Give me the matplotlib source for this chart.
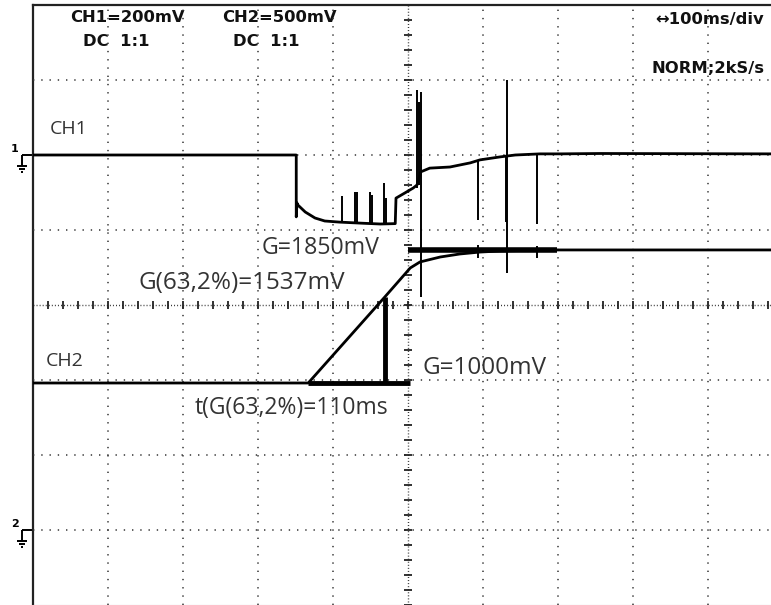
import numpy as np
import matplotlib
matplotlib.use('Agg')
import matplotlib.pyplot as plt

# screen: 100 ms/div, CH1 200 mV/div (ground at div 6), CH2 500 mV/div (ground at div 1)
ms_per_div = 100
ch1_mv_per_div, ch1_ground = 200, 6.0
ch2_mv_per_div, ch2_ground = 500, 1.0

# CH1 trace (time ms from left edge, mV)
ch1_t = [0, 351, 351, 352, 353, 363, 376, 389, 409, 440, 463, 483, 484, 496, 507,
         512, 517, 529, 556, 583, 596, 623, 643, 676, 703, 756, 984]
ch1_mv = [0, 0, -165, -128, -133, -152, -168, -176, -179, -182, -184, -183, -115,
          -101, -88, -80, -45, -35, -32, -21, -13, -5, 0, 3, 3, 4, 3]

# CH1 glitches (time, low mV, high mV)
ch1_spk_t = [412, 429, 432, 449, 452, 468, 471, 512, 515, 517, 593, 631, 632, 672]
ch1_spk_lo = [-179, -180, -180, -182, -182, -183, -183, -88, -80, -379, -173, -179, -315, -184]
ch1_spk_hi = [-109, -99, -99, -99, -107, -75, -115, 173, 141, 168, -13, 0, 200, 3]

# CH2 trace
ch2_t = [0, 367, 469, 489, 503, 516, 543, 569, 596, 623, 689, 984]
ch2_mv = [980, 980, 1553, 1667, 1747, 1787, 1820, 1840, 1853, 1860, 1867, 1867]

ch2_spk_t = [593, 672]
ch2_spk_lo = [1813, 1813]
ch2_spk_hi = [1900, 1893]

# cursors
g_final_mv, g_final_t = 1870, [500, 699]
g_base_mv, g_base_t = 980, [367, 503]
t63_ms, t63_mv = 469, [980, 1553]


def tx(t):
    return np.asarray(t, dtype=float) / ms_per_div


def y1(mv):
    return ch1_ground + np.asarray(mv, dtype=float) / ch1_mv_per_div


def y2(mv):
    return ch2_ground + np.asarray(mv, dtype=float) / ch2_mv_per_div


fig = plt.figure(figsize=(7.71, 6.05), dpi=100)
ax = fig.add_axes([33 / 771, 0, 738 / 771, 600 / 605])
ax.set_xlim(0, 738 / 75)
ax.set_ylim(0, 8)
ax.set_xticks([])
ax.set_yticks([])
for s in ['left', 'top']:
    ax.spines[s].set_linewidth(1.6)
    ax.spines[s].set_color('#222222')
ax.spines['right'].set_visible(False)
ax.spines['bottom'].set_color('#bbbbbb')

# dotted graticule
dots = (0, (0.9, 4.5))
for k in range(1, 10):
    if k != 5:
        ax.axvline(k, color='#333333', lw=1.1, ls=dots, zorder=5)
for k in range(1, 8):
    if k != 4:
        ax.axhline(k, color='#333333', lw=1.1, ls=dots, zorder=5)
# centre cross with minor ticks
ax.axvline(5, color='#333333', lw=1.0, ls=(0, (0.7, 1.5)), zorder=5)
ax.axhline(4, color='#333333', lw=1.0, ls=(0, (0.7, 1.5)), zorder=5)
minor = np.arange(0, 8.01, 0.2)
ax.plot(np.full(len(minor), 5.0), minor, ls='none', marker='_', ms=6, mew=1.3,
        color='#222222', zorder=5)
minor_x = np.arange(0, 9.9, 0.2)
ax.plot(minor_x, np.full(len(minor_x), 4.0), ls='none', marker='|', ms=6, mew=1.3,
        color='#222222', zorder=5)

# traces
ax.plot(tx(ch1_t), y1(ch1_mv), color='black', lw=2.0, zorder=6)
ax.vlines(tx(ch1_spk_t), y1(ch1_spk_lo), y1(ch1_spk_hi), color='black', lw=1.4, zorder=6)
ax.plot(tx(ch2_t), y2(ch2_mv), color='black', lw=2.0, zorder=6)
ax.vlines(tx(ch2_spk_t), y2(ch2_spk_lo), y2(ch2_spk_hi), color='black', lw=1.4, zorder=6)

# measurement cursors
ax.plot(tx(g_final_t), y2([g_final_mv] * 2), color='black', lw=4, zorder=7,
        solid_capstyle='butt')
ax.plot(tx(g_base_t), y2([g_base_mv] * 2), color='black', lw=3.5, zorder=7,
        solid_capstyle='butt')
ax.plot(tx([t63_ms] * 2), y2(t63_mv), color='black', lw=3.5, zorder=7,
        solid_capstyle='butt')

# ground markers
for lvl, num in [(ch1_ground, '1'), (ch2_ground, '2')]:
    kw = dict(color='black', lw=1.4, clip_on=False, solid_capstyle='butt')
    ax.plot([-0.15, -0.02], [lvl, lvl], **kw)
    ax.plot([-0.15, -0.15], [lvl, lvl - 0.14], **kw)
    ax.plot([-0.22, -0.08], [lvl - 0.14] * 2, **kw)
    ax.plot([-0.19, -0.11], [lvl - 0.18] * 2, **kw)
    ax.plot([-0.165, -0.135], [lvl - 0.22] * 2, **kw)
    ax.text(-0.19, lvl + 0.01, num, ha='right', va='bottom', fontsize=8,
            fontweight='bold', family='DejaVu Sans', clip_on=False)

# scope header
hdr = dict(fontsize=11.8, fontweight='bold', family='DejaVu Sans', color='#111111',
           va='center', zorder=4)
ax.text(0.49, 7.84, 'CH1=200mV', ha='left', **hdr)
ax.text(0.67, 7.52, 'DC  1:1', ha='left', **hdr)
ax.text(2.52, 7.84, 'CH2=500mV', ha='left', **hdr)
ax.text(2.67, 7.52, 'DC  1:1', ha='left', **hdr)
ax.text(9.75, 7.81, '\u2194100ms/div', ha='right', **hdr)
ax.text(9.75, 7.15, 'NORM;2kS/s', ha='right', **hdr)

# labels
lab = dict(family='Open Sans', color='#333333', va='center', ha='left', zorder=4)
ax.text(0.227, 6.35, 'CH1', fontsize=14, **lab)
ax.text(0.173, 3.25, 'CH2', fontsize=14, **lab)
ax.text(3.05, 4.76, 'G=1850mV', fontsize=16.7, **lab)
ax.text(1.40, 4.29, 'G(63,2%)=1537mV', fontsize=17.5, **lab)
ax.text(5.19, 3.16, 'G=1000mV', fontsize=17.5, **lab)
ax.text(2.16, 2.63, 't(G(63,2%)=110ms', fontsize=16.5, **lab)

fig.savefig('out.png', dpi=100)
